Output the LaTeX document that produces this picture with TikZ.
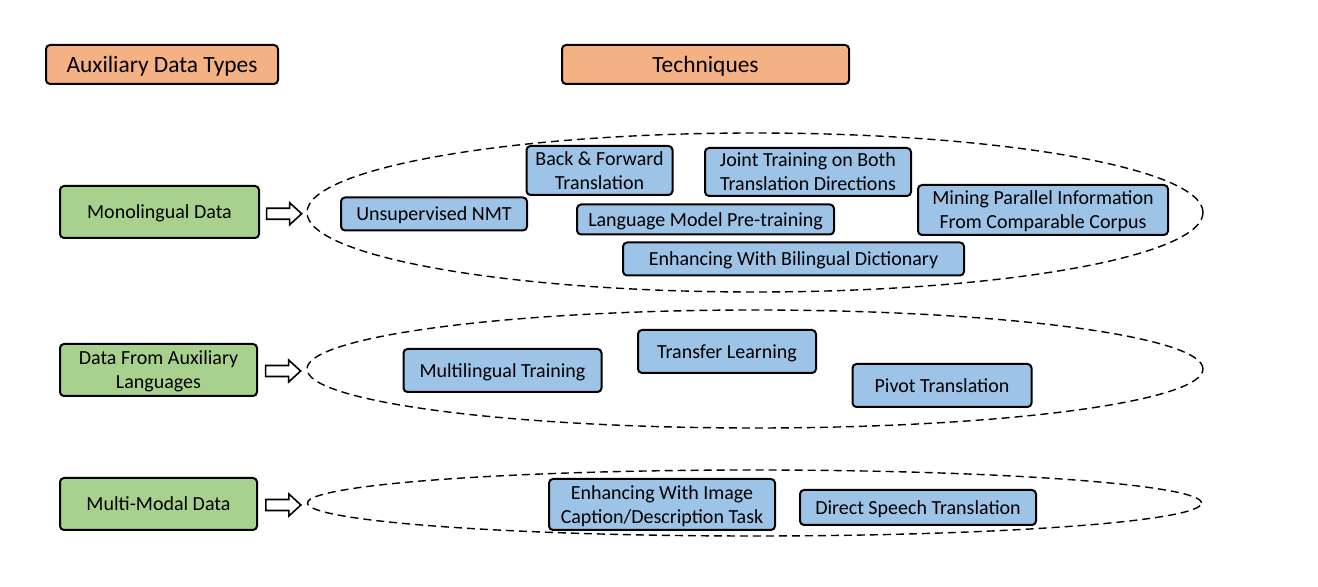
\documentclass[tikz,border=0pt]{standalone}
\usepackage{fontspec}
\setmainfont{Carlito}
\usetikzlibrary{shapes.geometric,calc}
\definecolor{hdrorange}{HTML}{F4B183}
\definecolor{datagreen}{HTML}{A9D18E}
\definecolor{techblue}{HTML}{9DC3E6}
\begin{document}
\begin{tikzpicture}[x=0.5pt,y=-0.5pt,
	box/.style={draw,line width=1pt,rounded corners=2pt,align=center,inner sep=0pt,text depth=0pt,font=\fontsize{10}{12}\selectfont},
	hdr/.style={box,fill=hdrorange,minimum height=19.5pt,font=\fontsize{11.7}{14}\selectfont},
	datbox/.style={box,fill=datagreen,minimum height=26pt},
	tech/.style={box,fill=techblue},
	group/.style={draw,ellipse,dash pattern=on 4pt off 2.5pt,line width=0.7pt,inner sep=0pt},
	fat/.style={draw,fill=white,line width=0.8pt,line join=miter}]
	\useasboundingbox (0,0) rectangle (1318,587);
	% tieu de
	\node[hdr,minimum width=116pt] (hdrdata) at (162,64.5) {Auxiliary Data Types};
	\node[hdr,minimum width=143.5pt] (hdrtech) at (705.5,64.5) {Techniques};
	% loai du lieu
	\node[datbox,minimum width=99.5pt] (mono) at (159.5,212) {Monolingual Data};
	\node[datbox,minimum width=98.5pt] (aux) at (158.5,370) {Data From Auxiliary\\Languages};
	\node[datbox,minimum width=98.5pt] (mm) at (158.5,504) {Multi-Modal Data};
	% nhom ky thuat
	\node[group,minimum width=448pt,minimum height=79.5pt] (monoset) at (755,212.5) {};
	\node[group,minimum width=448pt,minimum height=59pt] (auxset) at (755,369) {};
	\node[group,minimum width=447pt,minimum height=33pt] (mmset) at (754.5,503) {};
	% mui ten rong
	\foreach \d/\s in {mono/monoset,aux/auxset,mm/mmset}{
		\coordinate (mid\d) at ($(\d.east)!0.5!(\s.west)+(1,1.5)$);
		\draw[fat] ($(mid\d)+(-17.5,-5.5)$) -- ($(mid\d)+(5.5,-5.5)$) -- ($(mid\d)+(5.5,-11)$)
			-- ($(mid\d)+(17.5,0)$) -- ($(mid\d)+(5.5,11)$) -- ($(mid\d)+(5.5,5.5)$)
			-- ($(mid\d)+(-17.5,5.5)$) -- cycle;
	}
	% ky thuat
	\node[tech,minimum width=93pt,minimum height=16.5pt] (unsup) at (434,214) {Unsupervised NMT};
	\node[tech,minimum width=73pt,minimum height=24.5pt] (backfwd) at (599.5,170.5) {Back \& Forward\\Translation};
	\node[tech,minimum width=103pt,minimum height=24pt] (joint) at (808,172) {Joint Training on Both\\Translation Directions};
	\node[tech,minimum width=128.5pt,minimum height=15pt] (lmpre) at (705.5,219.5) {Language Model Pre-training};
	\node[tech,minimum width=125pt,minimum height=25pt] (mining) at (1043,210) {Mining Parallel Information\\From Comparable Corpus};
	\node[tech,minimum width=170.5pt,minimum height=16.5pt] (dict) at (793.5,259) {Enhancing With Bilingual Dictionary};
	\node[tech,minimum width=99pt,minimum height=21.5pt] (multi) at (502.5,370.5) {Multilingual Training};
	\node[tech,minimum width=89pt,minimum height=21.5pt] (transfer) at (727,351.5) {Transfer Learning};
	\node[tech,minimum width=89.5pt,minimum height=21.5pt] (pivot) at (942,385.5) {Pivot Translation};
	\node[tech,minimum width=113pt,minimum height=25.5pt] (caption) at (662,504.5) {Enhancing With Image\\Caption/Description Task};
	\node[tech,minimum width=118pt,minimum height=17.5pt] (speech) at (918,507.5) {Direct Speech Translation};
\end{tikzpicture}
\end{document}
